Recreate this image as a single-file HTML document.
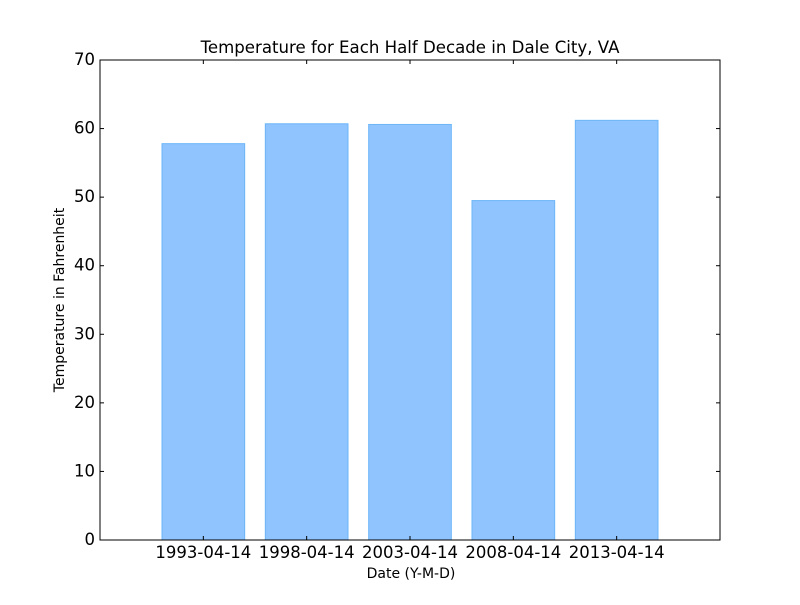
<!DOCTYPE html>
<html><head><meta charset="utf-8"><style>
body{margin:0;background:#fff;}
svg text{font-family:"DejaVu Sans","Liberation Sans",sans-serif;}
</style></head><body>
<svg id="chart" width="800" height="600" xmlns="http://www.w3.org/2000/svg">
<rect width="800" height="600" fill="#fff"/>
<text x="410" y="53" text-anchor="middle" font-size="16.6">Temperature for Each Half Decade in Dale City, VA</text>
<text x="411" y="578" text-anchor="middle" font-size="14">Date (Y-M-D)</text>
<text transform="translate(64,300) rotate(-90)" text-anchor="middle" font-size="14">Temperature in Fahrenheit</text>
<g id="bars"></g>
<g id="axes"></g>
<rect x="100" y="60" width="620" height="480" fill="none" stroke="#000" stroke-width="1"/>
</svg>
<script>
const categories = ["1993-04-14","1998-04-14","2003-04-14","2008-04-14","2013-04-14"];
const temps = [57.8, 60.7, 60.6, 49.5, 61.2];
const yTicks = [0,10,20,30,40,50,60,70];

const L=100,R=720,T=60,B=540;
const xs = i => L + (i+1)/6*(R-L);
const ys = v => B - v/70*(B-T);
const NS="http://www.w3.org/2000/svg";
const bars=document.getElementById('bars'), axes=document.getElementById('axes');
function mk(tag,attrs,parent){const e=document.createElementNS(NS,tag);for(const k in attrs)e.setAttribute(k,attrs[k]);parent.appendChild(e);return e;}
const bw=0.8/6*(R-L);
categories.forEach((c,i)=>{
  const r=mk('rect',{x:xs(i)-bw/2,y:ys(temps[i]),width:bw,height:B-ys(temps[i]),fill:'#8fc4ff',stroke:'#6cb6f8','stroke-width':1},bars);
  
  
  const t=mk('text',{x:xs(i),y:B+18,'text-anchor':'middle','font-size':16.5},axes);
  t.textContent=c;
  
  
  mk('line',{x1:xs(i),x2:xs(i),y1:B,y2:B-4,stroke:'#000'},axes);
  mk('line',{x1:xs(i),x2:xs(i),y1:T,y2:T+4,stroke:'#000'},axes);
});
yTicks.forEach(v=>{
  const y=ys(v);
  mk('line',{x1:L,x2:L+4,y1:y,y2:y,stroke:'#000'},axes);
  mk('line',{x1:R,x2:R-4,y1:y,y2:y,stroke:'#000'},axes);
  const t=mk('text',{x:L-5,y:y+5,'text-anchor':'end','font-size':16.5},axes);
  t.textContent=v;
  
  
});
</script>
</body></html>
